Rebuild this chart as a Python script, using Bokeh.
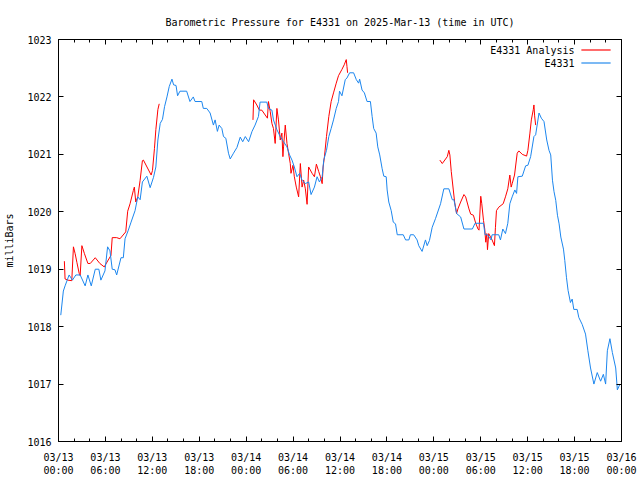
from bokeh.plotting import figure
from bokeh.models import Range1d, LinearAxis, FixedTicker, Label, BoxAnnotation
from bokeh.embed import file_html
from bokeh.resources import INLINE

# ---- data (hours after 2025-03-13 00:00 UTC, pressure in mb) ----
obs_hours = [0.29, 0.62, 0.84, 1.36, 1.78, 2.22, 2.77, 3.41, 3.76, 4.19, 4.70, 5.16, 5.42, 5.94,
             6.28, 6.58, 6.87, 7.22, 7.44, 7.99, 8.29, 8.51, 8.93, 9.28, 9.79, 10.14, 10.44, 10.73,
             11.30, 11.72, 12.15, 12.45, 12.71, 13.01, 13.30, 13.56, 13.87, 14.16, 14.51, 14.72,
             15.03, 15.23, 15.53, 16.39, 16.81, 17.24, 17.46, 18.32, 18.52, 18.96, 19.39, 19.81,
             20.03, 20.32, 20.54, 20.89, 21.10, 21.40, 21.74, 21.96, 22.38, 22.82, 23.24, 23.56,
             23.89, 24.31, 24.75, 25.14, 25.57, 25.78, 26.64, 26.85, 27.29, 27.49, 27.93, 28.36,
             28.78, 29.22, 29.55, 29.86, 30.16, 30.50, 30.84, 31.15, 31.57, 31.99, 32.30, 32.73,
             33.07, 33.37, 33.72, 33.92, 34.27, 34.57, 34.87, 35.17, 35.52, 35.81, 35.94, 36.25,
             36.67, 36.89, 37.23, 37.74, 38.09, 38.38, 38.51, 38.82, 39.12, 39.46, 39.89, 40.11,
             40.31, 40.62, 40.83, 41.08, 41.39, 41.60, 41.91, 42.03, 42.24, 42.55, 42.81, 43.10,
             43.32, 44.09, 44.39, 44.81, 45.00, 45.42, 45.86, 46.07, 46.50, 46.93, 47.15, 47.44,
             47.79, 48.21, 48.86, 49.28, 49.92, 50.36, 50.57, 50.91, 51.43, 51.85, 52.93, 53.27,
             54.35, 54.55, 54.86, 55.32, 55.45, 56.30, 56.52, 56.82, 57.16, 57.46, 57.72, 58.02,
             58.36, 58.58, 58.75, 59.31, 59.74, 60.03, 60.38, 60.80, 61.02, 61.45, 61.75, 62.09,
             62.44, 62.73, 62.95, 63.17, 63.37, 63.59, 63.81, 64.02, 64.24, 64.58, 64.75, 64.96,
             65.17, 65.47, 65.69, 65.90, 66.33, 66.54, 66.97, 67.40, 67.70, 68.04, 68.47, 68.90,
             69.33, 69.68, 69.97, 70.19, 70.52, 70.83, 71.26, 71.47, 71.81]
obs_mb = [1018.20, 1018.62, 1018.71, 1018.90, 1018.81, 1018.90, 1018.90, 1018.71, 1018.90, 1018.71,
          1019.00, 1019.00, 1018.81, 1018.97, 1019.39, 1019.32, 1019.00, 1018.99, 1018.90, 1019.20,
          1019.20, 1019.53, 1019.68, 1019.82, 1020.02, 1020.26, 1020.21, 1020.52, 1020.62, 1020.42,
          1020.60, 1020.78, 1021.25, 1021.54, 1021.61, 1021.83, 1022.00, 1022.18, 1022.31, 1022.21,
          1022.20, 1022.02, 1022.10, 1022.10, 1021.92, 1022.00, 1021.92, 1021.92, 1021.80, 1021.80,
          1021.72, 1021.51, 1021.60, 1021.40, 1021.51, 1021.45, 1021.31, 1021.28, 1021.02, 1020.92,
          1021.02, 1021.12, 1021.30, 1021.22, 1021.31, 1021.22, 1021.40, 1021.51, 1021.66, 1021.91,
          1021.91, 1021.80, 1021.77, 1021.60, 1021.43, 1021.31, 1021.22, 1021.13, 1020.99, 1020.90,
          1020.78, 1020.61, 1020.67, 1020.55, 1020.49, 1020.52, 1020.30, 1020.43, 1020.61, 1020.52,
          1020.61, 1020.90, 1021.07, 1021.31, 1021.45, 1021.60, 1021.80, 1021.92, 1022.10, 1022.02,
          1022.30, 1022.33, 1022.42, 1022.42, 1022.30, 1022.24, 1022.31, 1022.12, 1022.07, 1021.92,
          1021.92, 1021.66, 1021.45, 1021.37, 1021.13, 1020.99, 1020.75, 1020.62, 1020.61, 1020.38,
          1020.17, 1020.02, 1019.82, 1019.79, 1019.60, 1019.60, 1019.51, 1019.51, 1019.60, 1019.60,
          1019.51, 1019.41, 1019.31, 1019.51, 1019.41, 1019.50, 1019.73, 1019.88, 1020.14, 1020.40,
          1020.40, 1020.21, 1020.21, 1019.97, 1019.91, 1019.70, 1019.70, 1019.80, 1019.80, 1019.60,
          1019.60, 1019.51, 1019.60, 1019.60, 1019.51, 1019.70, 1019.62, 1019.80, 1020.14, 1020.26,
          1020.38, 1020.32, 1020.61, 1020.62, 1020.80, 1020.81, 1020.96, 1021.31, 1021.34, 1021.72,
          1021.63, 1021.57, 1021.25, 1021.07, 1020.99, 1020.55, 1020.35, 1020.20, 1019.94, 1019.79,
          1019.56, 1019.35, 1019.15, 1018.86, 1018.63, 1018.42, 1018.48, 1018.30, 1018.30, 1018.16,
          1018.04, 1017.87, 1017.58, 1017.28, 1017.00, 1017.20, 1017.05, 1017.17, 1017.00, 1017.58,
          1017.79, 1017.55, 1017.28, 1016.90, 1017.00]

ana1_hours = [0.75, 0.84, 1.19, 1.70, 1.91, 2.13, 2.35, 2.64, 2.77, 2.99, 3.32, 3.76, 4.06, 4.70,
              5.29, 5.85, 6.36, 6.71, 6.87, 7.44, 7.86, 8.60, 8.85, 9.15, 9.57, 9.70, 9.88, 10.14,
              10.44, 10.73, 10.86, 11.85, 12.02, 12.27, 12.45, 12.71, 12.88]
ana1_mb = [1019.14, 1018.83, 1018.81, 1018.80, 1019.39, 1019.27, 1019.12, 1018.93, 1018.89, 1019.41,
           1019.27, 1019.10, 1019.10, 1019.20, 1019.10, 1019.04, 1019.16, 1019.24, 1019.55, 1019.55,
           1019.53, 1019.65, 1020.01, 1020.14, 1020.37, 1020.43, 1020.17, 1020.26, 1020.55, 1020.89,
           1020.90, 1020.64, 1020.72, 1021.10, 1021.43, 1021.78, 1021.88]

ana2_hours = [24.87, 24.95, 25.36, 25.69, 26.00, 26.72, 26.85, 27.07, 27.29, 27.49, 27.71, 27.93,
              28.13, 28.36, 28.57, 28.70, 28.78, 29.00, 29.22, 29.42, 29.64, 29.73, 29.99, 30.16,
              30.41, 30.71, 30.93, 31.15, 31.35, 31.57, 31.79, 31.99, 32.43, 32.73, 32.98, 33.28,
              33.50, 33.72, 33.84, 34.01, 34.27, 34.57, 34.87, 35.17, 35.52, 35.81, 36.25, 36.54,
              36.80, 36.89, 36.97]
ana2_mb = [1021.60, 1021.95, 1021.86, 1021.77, 1021.77, 1021.63, 1021.92, 1021.75, 1021.54, 1021.45,
           1021.19, 1021.80, 1021.60, 1021.25, 1021.37, 1020.96, 1021.13, 1021.51, 1021.19, 1021.02,
           1020.84, 1020.67, 1020.81, 1020.61, 1020.43, 1020.26, 1020.84, 1020.43, 1020.55, 1020.40,
           1020.13, 1020.78, 1020.67, 1020.61, 1020.83, 1020.70, 1020.61, 1020.49, 1020.78, 1020.96,
           1021.31, 1021.66, 1021.92, 1022.07, 1022.24, 1022.37, 1022.48, 1022.56, 1022.65, 1022.53,
           1022.42]

ana3_hours = [48.77, 49.08, 49.72, 49.92, 50.05, 50.23, 50.49, 50.66, 50.91, 51.08, 51.43, 51.85,
              52.07, 52.49, 52.71, 53.06, 53.36, 53.65, 53.78, 54.00, 54.13, 54.35, 54.51, 54.64,
              54.77, 54.86, 55.02, 55.45, 55.75, 55.88, 56.01, 56.30, 56.87, 57.16, 57.46, 57.72,
              57.89, 58.02, 58.32, 58.66, 58.87, 59.31, 59.86, 60.03, 60.29, 60.47, 60.72, 60.80,
              60.89, 61.02]
ana3_mb = [1020.90, 1020.84, 1020.96, 1021.07, 1020.99, 1020.70, 1020.38, 1020.17, 1019.97, 1020.05,
           1020.17, 1020.30, 1020.26, 1020.05, 1019.96, 1019.94, 1019.80, 1019.70, 1019.68, 1020.27,
           1020.14, 1019.85, 1019.70, 1019.47, 1019.62, 1019.34, 1019.62, 1019.51, 1019.41, 1019.73,
           1020.02, 1020.08, 1020.14, 1020.26, 1020.40, 1020.64, 1020.43, 1020.49, 1020.64, 1021.02,
           1021.06, 1021.00, 1020.97, 1021.07, 1021.37, 1021.60, 1021.78, 1021.86, 1021.67, 1021.51]

x_tick_hours = [0, 6, 12, 18, 24, 30, 36, 42, 48, 54, 60, 66, 72]
x_tick_labels = ["03/13\n00:00", "03/13\n06:00", "03/13\n12:00", "03/13\n18:00",
                 "03/14\n00:00", "03/14\n06:00", "03/14\n12:00", "03/14\n18:00",
                 "03/15\n00:00", "03/15\n06:00", "03/15\n12:00", "03/15\n18:00",
                 "03/16\n00:00"]
x_minor_hours = list(range(0, 73, 2))
y_ticks = [1016, 1017, 1018, 1019, 1020, 1021, 1022, 1023]

title_text = "Barometric Pressure for E4331 on 2025-Mar-13 (time in UTC)"
y_label = "milliBars"
series_names = ["E4331 Analysis", "E4331"]

RED = "#ff0000"
BLUE = "#1c86ee"
FONT = "DejaVu Sans Mono"
FS = "10px"

p = figure(width=640, height=480, output_backend="svg", toolbar_location=None,
           x_range=Range1d(0, 72), y_range=Range1d(1016, 1023),
           min_border_left=58, min_border_right=19, min_border_top=39, min_border_bottom=39,
           x_axis_type=None, y_axis_type=None)
p.grid.visible = False
p.outline_line_color = None
p.background_fill_color = "white"
p.border_fill_color = "white"

p.title.text = title_text
p.title.align = "center"
p.title.text_font = FONT
p.title.text_font_size = FS
p.title.text_font_style = "normal"
p.title.text_color = "black"
p.title.standoff = 23

xt = FixedTicker(ticks=x_tick_hours, minor_ticks=x_minor_hours)
yt = FixedTicker(ticks=y_ticks, minor_ticks=[])


def style(ax):
    ax.major_tick_in = 5
    ax.major_tick_out = 0
    ax.minor_tick_in = 3
    ax.minor_tick_out = 0
    ax.axis_line_color = "black"
    ax.major_tick_line_color = "black"
    ax.minor_tick_line_color = "black"
    ax.major_label_text_font = FONT
    ax.major_label_text_font_size = FS
    ax.major_label_text_color = "black"


def hide_labels(ax, ticks):
    ax.major_label_overrides = {t: "" for t in ticks}
    ax.major_label_text_color = None
    ax.major_label_standoff = 0


xb = LinearAxis(ticker=xt, major_label_overrides={h: s for h, s in zip(x_tick_hours, x_tick_labels)})
style(xb)
xb.major_label_standoff = 10
p.add_layout(xb, "below")

xa = LinearAxis(ticker=xt)
style(xa)
hide_labels(xa, x_tick_hours)
p.add_layout(xa, "above")

yl = LinearAxis(ticker=yt, axis_label=y_label)
style(yl)
yl.major_label_standoff = 7
yl.axis_label_text_font = FONT
yl.axis_label_text_font_size = FS
yl.axis_label_text_font_style = "normal"
yl.axis_label_text_color = "black"
yl.axis_label_standoff = 9
p.add_layout(yl, "left")

yr = LinearAxis(ticker=yt)
style(yr)
hide_labels(yr, y_ticks)
p.add_layout(yr, "right")

# analysis (red) drawn first, observations (blue) on top
for hx, vy in [(ana1_hours, ana1_mb), (ana2_hours, ana2_mb), (ana3_hours, ana3_mb)]:
    p.line(hx, vy, line_color=RED, line_width=1)
p.line(obs_hours, obs_mb, line_color=BLUE, line_width=1)

# gnuplot-style key: text right-aligned, sample to its right
for i, (name, col) in enumerate(zip(series_names, [RED, BLUE])):
    yy = 391.5 - 13 * i
    p.add_layout(Label(x=516, y=yy, x_units="screen", y_units="screen", text=name,
                       text_align="right", text_baseline="middle",
                       text_font=FONT, text_font_size=FS, text_color="black"))
    p.add_layout(BoxAnnotation(left=523, right=552, bottom=yy - 0.5, top=yy + 0.5,
                               left_units="screen", right_units="screen",
                               top_units="screen", bottom_units="screen",
                               fill_color=col, fill_alpha=1, line_color=col, line_width=0.5))

open("out.html", "w").write(file_html(p, INLINE))
